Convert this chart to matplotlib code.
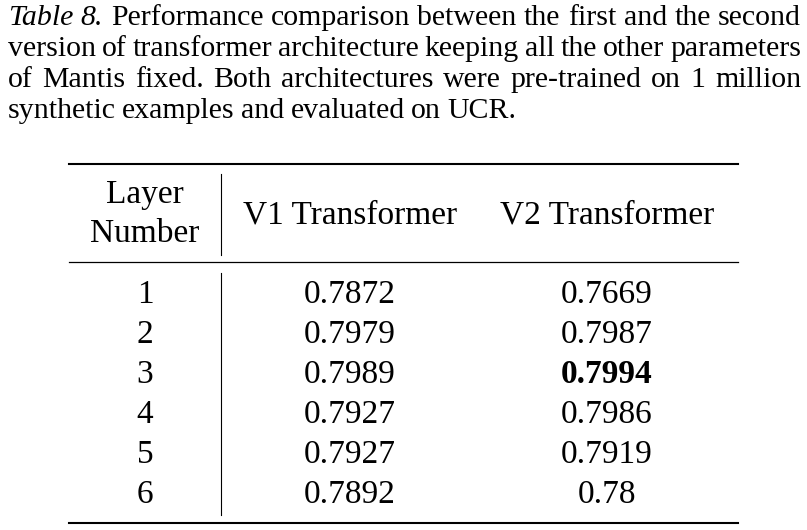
import matplotlib.pyplot as plt

caption_lines = [
    "Performance comparison between the first and the second",
    "version of transformer architecture keeping all the other parameters",
    "of Mantis fixed. Both architectures were pre-trained on 1 million",
    "synthetic examples and evaluated on UCR.",
]
caption_label = "Table 8."

header = ["Layer\nNumber", "V1 Transformer", "V2 Transformer"]
layers = ["1", "2", "3", "4", "5", "6"]
v1 = ["0.7872", "0.7979", "0.7989", "0.7927", "0.7927", "0.7892"]
v2 = ["0.7669", "0.7987", "0.7994", "0.7986", "0.7919", "0.78"]
best_v2 = 2

plt.rcParams['font.family'] = ['Liberation Serif', 'DejaVu Serif']

fig = plt.figure(figsize=(8.07, 5.30), dpi=100)
ax = fig.add_axes([0, 0, 1, 1])
ax.set_xlim(0, 807)
ax.set_ylim(530, 0)
ax.axis('off')
renderer = fig.canvas.get_renderer()


def width_of(t):
    return t.get_window_extent(renderer=renderer).width


# caption, justified like the paper
cap_size = 21.5
left, right = 8, 801
y0, dy = 25, 31
for i, line in enumerate(caption_lines):
    y = y0 + dy * i
    words = [(w, 'normal') for w in line.split()]
    if i == 0:
        words = [(w, 'italic') for w in caption_label.split()] + words
    texts = [ax.text(0, y, w, fontsize=cap_size, style=st, va='baseline', ha='left')
             for w, st in words]
    widths = [width_of(t) for t in texts]
    if i == len(caption_lines) - 1:
        gap = 6.3
    else:
        gap = (right - left - sum(widths)) / (len(texts) - 1)
    x = left
    for t, w in zip(texts, widths):
        t.set_x(x)
        x += w + gap

# table
tsize = 24
col_x = [145, 350, 607]
x_left, x_right = 69, 738
ax.plot([x_left, x_right], [164, 164], color='black', lw=1.5)
ax.plot([x_left, x_right], [262, 262], color='black', lw=0.9)
ax.plot([x_left, x_right], [523, 523], color='black', lw=1.5)
ax.plot([221, 221], [174, 255], color='black', lw=0.8)
ax.plot([221, 221], [273, 515], color='black', lw=0.8)

ax.text(col_x[0], 203, "Layer", fontsize=tsize, ha='center', va='baseline')
ax.text(col_x[0], 242, "Number", fontsize=tsize, ha='center', va='baseline')
ax.text(col_x[1], 223, header[1], fontsize=tsize, ha='center', va='baseline')
ax.text(col_x[2], 223, header[2], fontsize=tsize, ha='center', va='baseline')

for i in range(len(layers)):
    yb = 303 + 40 * i
    ax.text(col_x[0], yb, layers[i], fontsize=tsize, ha='center', va='baseline')
    ax.text(col_x[1], yb, v1[i], fontsize=tsize, ha='center', va='baseline')
    ax.text(col_x[2], yb, v2[i], fontsize=tsize, ha='center', va='baseline',
            fontweight='bold' if i == best_v2 else 'normal')

fig.savefig('out.png', dpi=100)
